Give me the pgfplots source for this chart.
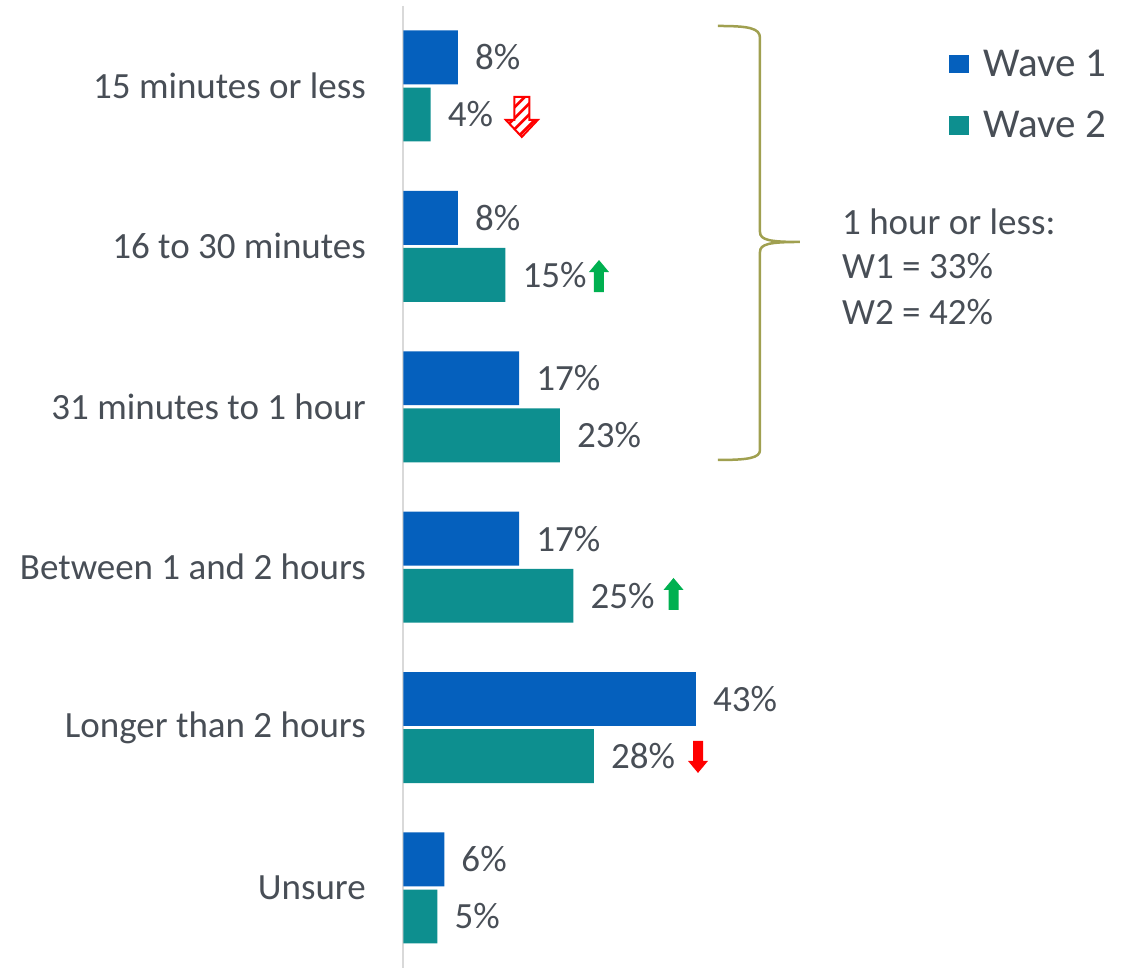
\documentclass[border=0pt]{standalone}
\usepackage{pgfplots}
\pgfplotsset{compat=1.18}
\usepackage{fontspec}
\setmainfont{Carlito}

\definecolor{waveone}{RGB}{5,96,189}
\definecolor{wavetwo}{RGB}{13,143,143}
\definecolor{txt}{RGB}{72,78,86}
\definecolor{axisgrey}{RGB}{217,217,217}
\definecolor{braceolive}{RGB}{160,160,80}
\definecolor{upgreen}{RGB}{0,176,80}
\definecolor{downred}{RGB}{255,0,0}

% y = category index (0 = top); wave 1 sits above, wave 2 below
\pgfplotstableread{
y       v
-0.178  8
0.822   8
1.822   17
2.822   17
3.822   43
4.822   6
}\waveone
\pgfplotstableread{
y       v
0.178   4
1.178   15
2.178   23
3.178   25
4.178   28
5.178   5
}\wavetwo

\begin{document}
\begin{tikzpicture}
\begin{axis}[
  scale only axis,
  width=680pt, height=962.4pt,
  xmin=0, xmax=100,
  ymin=-0.5, ymax=5.5,
  y dir=reverse,
  clip=false,
  xbar, bar width=0.336, bar shift=0pt,
  axis x line=none,
  axis y line=left,
  y axis line style={-, draw=axisgrey, line width=2pt},
  ytick={0,1,2,3,4,5},
  yticklabels={15 minutes or less,16 to 30 minutes,31 minutes to 1 hour,Between 1 and 2 hours,Longer than 2 hours,Unsure},
  major tick length=0pt,
  ytick style={draw=none},
  yticklabel style={font=\fontsize{37}{44}\selectfont, text=txt, inner sep=0pt, xshift=-37.5pt},
  /pgf/number format/assume math mode=true,
  nodes near coords={\pgfmathprintnumber{\pgfplotspointmeta}\%},
  point meta=x,
  nodes near coords style={font=\fontsize{37}{44}\selectfont, text=txt, anchor=west, inner sep=0pt, xshift=17pt},
]
\addplot[fill=waveone, draw=none] table[x=v, y=y] {\waveone};
\addplot[fill=wavetwo, draw=none] table[x=v, y=y] {\wavetwo};

\coordinate (BBtl) at (axis cs:-59.34,-0.536);
\coordinate (BBbr) at (axis cs:107.87,5.499);
\coordinate (hatchArrow) at (axis cs:17.4,0.193);

% solid change markers
\begin{scope}[shift={(axis cs:28.75,1.185)}]
  \fill[upgreen] (-5pt,-16pt) -- (5pt,-16pt) -- (5pt,4pt) -- (10pt,4pt) -- (0pt,16pt) -- (-10pt,4pt) -- (-5pt,4pt) -- cycle;
\end{scope}
\begin{scope}[shift={(axis cs:39.71,3.167)}]
  \fill[upgreen] (-5pt,-16pt) -- (5pt,-16pt) -- (5pt,4pt) -- (10pt,4pt) -- (0pt,16pt) -- (-10pt,4pt) -- (-5pt,4pt) -- cycle;
\end{scope}
\begin{scope}[shift={(axis cs:43.31,4.183)}]
  \fill[downred] (-5pt,16pt) -- (5pt,16pt) -- (5pt,-4pt) -- (10pt,-4pt) -- (0pt,-16pt) -- (-10pt,-4pt) -- (-5pt,-4pt) -- cycle;
\end{scope}

% brace, summary and legend, placed from the top category's origin
\begin{scope}[shift={(axis cs:0,0)}]
  \draw[braceolive, line width=2.5pt]
    (314.5pt,60pt) .. controls (345pt,60pt) and (356.5pt,58pt) .. (356.5pt,48pt)
    -- (356.5pt,-146pt) .. controls (356.5pt,-154pt) and (366pt,-156pt) .. (396.5pt,-156pt)
    .. controls (366pt,-156pt) and (356.5pt,-158pt) .. (356.5pt,-166pt)
    -- (356.5pt,-364pt) .. controls (356.5pt,-372pt) and (345pt,-374pt) .. (314.5pt,-374pt);
  \node[anchor=base west, inner sep=0pt, text=txt, font=\fontsize{37}{44}\selectfont] at (438.5pt,-149pt) {1 hour or less:};
  \node[anchor=base west, inner sep=0pt, text=txt, font=\fontsize{37}{44}\selectfont] at (438.5pt,-193pt) {W1 = 33\%};
  \node[anchor=base west, inner sep=0pt, text=txt, font=\fontsize{37}{44}\selectfont] at (438.5pt,-239pt) {W2 = 42\%};

  \fill[waveone] (545.5pt,13pt) rectangle (565.5pt,31pt);
  \node[anchor=base west, inner sep=0pt, text=txt, font=\fontsize{41}{48}\selectfont] at (579.5pt,9pt) {Wave 1};
  \fill[wavetwo] (545.5pt,-49pt) rectangle (565.5pt,-30pt);
  \node[anchor=base west, inner sep=0pt, text=txt, font=\fontsize{41}{48}\selectfont] at (579.5pt,-52pt) {Wave 2};
\end{scope}
\end{axis}

% hatched outline arrow (significant decrease, first category)
\begin{scope}[shift={(hatchArrow)}]
  \begin{scope}
    \clip (-7.5pt,20pt) -- (7.5pt,20pt) -- (7.5pt,-3pt) -- (16pt,-3pt) -- (0pt,-20pt) -- (-16pt,-3pt) -- (-7.5pt,-3pt) -- cycle;
    \foreach \k in {-50,-39,...,50}
      \draw[downred, line width=2.5pt] (\k pt,0pt) ++(-24pt,-24pt) -- ++(48pt,48pt);
  \end{scope}
  \draw[downred, line width=2pt, line join=miter] (-7.5pt,20pt) -- (7.5pt,20pt) -- (7.5pt,-3pt) -- (16pt,-3pt) -- (0pt,-20pt) -- (-16pt,-3pt) -- (-7.5pt,-3pt) -- cycle;
\end{scope}

\pgfresetboundingbox
\path[use as bounding box] (BBtl) rectangle (BBbr);
\end{tikzpicture}
\end{document}
